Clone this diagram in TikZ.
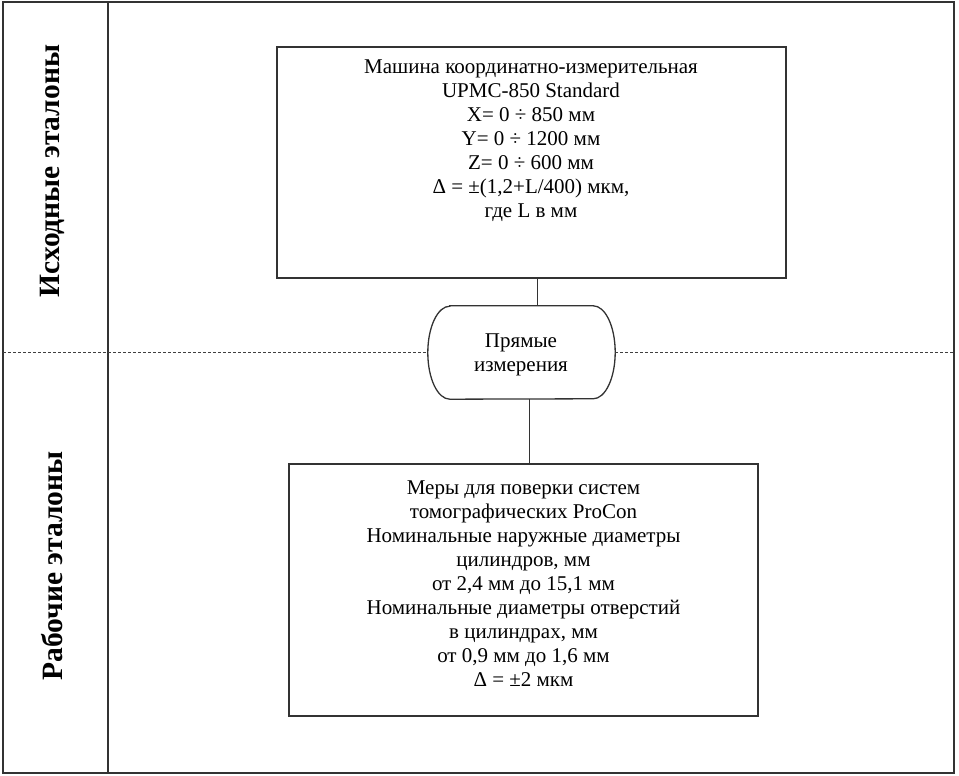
\documentclass[tikz,border=0pt]{standalone}
\usepackage{fontspec}
\setmainfont{Liberation Serif}

\begin{document}
\begin{tikzpicture}
  [x=1pt,y=1pt,
   box/.style={draw=black!80,line width=1.3pt,inner sep=0pt},
   txt/.style={align=center,inner sep=0pt,font=\fontsize{21}{24}\selectfont},
   side/.style={rotate=90,inner sep=0pt,font=\fontsize{29.5}{31}\selectfont\bfseries},
   link/.style={draw=black!80,line width=0.9pt},
   dash line/.style={draw=black!75,line width=0.8pt,dash pattern=on 3pt off 2pt}]

  \useasboundingbox (0,0) rectangle (959,776);

  % frame and left column
  \draw[box] (3,774) rectangle (954,3);
  \draw[box] (108,774) -- (108,3);

  \node[side] (src) at (52,605) {Исходные эталоны};
  \node[side] (work) at (52,210) {Рабочие эталоны};

  \node[box,minimum width=509,minimum height=231] (top) at (531.5,613.5) {};
  \node[txt] (toptxt) at (531,635) {Машина координатно-измерительная\\
    UPMC-850 Standard\\
    X= 0 ÷ 850 мм\\
    Y= 0 ÷ 1200 мм\\
    Z= 0 ÷ 600 мм\\
    Δ = ±(1,2+L/400) мкм,\\
    где L в мм};

  \node[inner sep=0pt,minimum width=187,minimum height=93] (mid) at (521.5,423.5) {};
  \draw[box] ([xshift=22]mid.north west) -- ([xshift=-22]mid.north east)
    arc[start angle=90,end angle=-90,x radius=22,y radius=46.5]
    -- ([xshift=22]mid.south west)
    arc[start angle=270,end angle=90,x radius=22,y radius=46.5] -- cycle;
  \node[txt] (midtxt) at (521,421) {Прямые\\измерения};

  \node[box,minimum width=469,minimum height=252] (bot) at (523.5,186) {};
  \node[txt] (bottxt) at (523.5,192) {Меры для поверки систем\\
    томографических ProCon\\
    Номинальные наружные диаметры\\
    цилиндров, мм\\
    от 2,4 мм до 15,1 мм\\
    Номинальные диаметры отверстий\\
    в цилиндрах, мм\\
    от 0,9 мм до 1,6 мм\\
    Δ = ±2 мкм};

  % connectors
  \coordinate (uplink) at (537,0);
  \coordinate (lowlink) at (529,0);
  \draw[link] (top.south -| uplink) -- (mid.north -| uplink);
  \draw[link] (mid.south -| lowlink) -- (bot.north -| lowlink);

  % border between the two levels
  \coordinate (leftend) at (3,423.5);
  \coordinate (rightend) at (954,423.5);
  \draw[dash line] (leftend) -- (mid.west);
  \draw[dash line] (mid.east) -- (rightend);
\end{tikzpicture}
\end{document}
